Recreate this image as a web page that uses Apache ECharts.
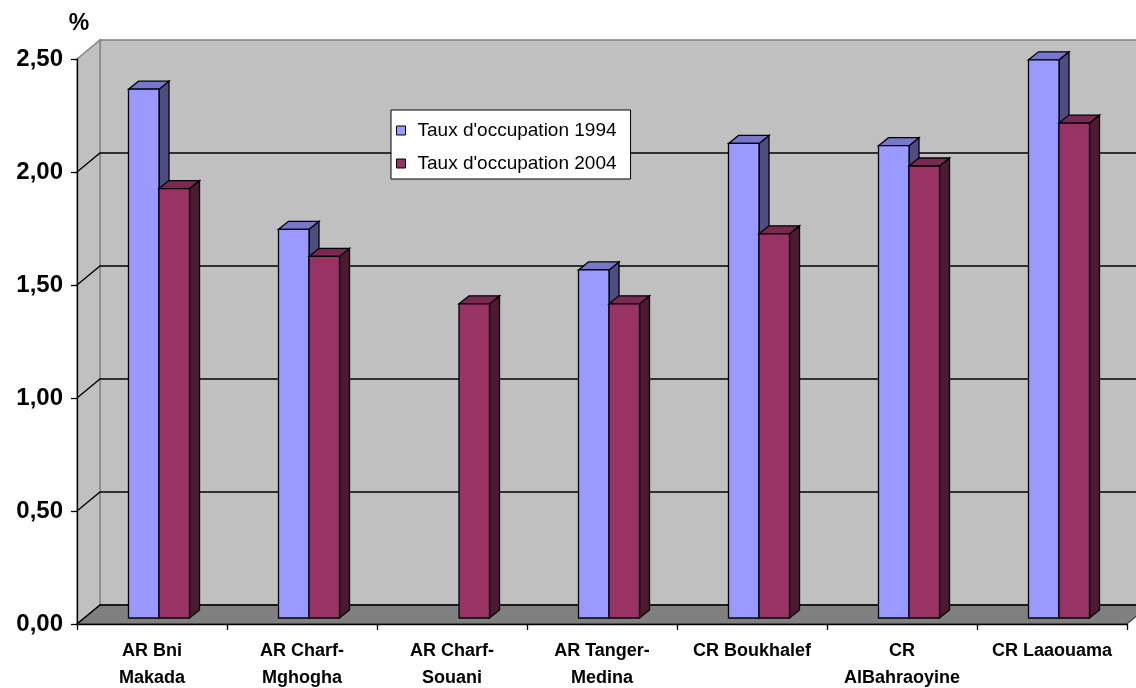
<!DOCTYPE html>
<html>
<head>
<meta charset="utf-8">
<script src="https://cdn.jsdelivr.net/npm/echarts@6/dist/echarts.min.js"></script>
<style>
  html, body { margin: 0; padding: 0; background: #ffffff; }
  #chart { width: 1136px; height: 688px; }
</style>
</head>
<body>
<div id="chart"></div>
<script>
// Occupancy rate by commune / arrondissement
const categories = [
  'AR Bni\nMakada',
  'AR Charf-\nMghogha',
  'AR Charf-\nSouani',
  'AR Tanger-\nMedina',
  'CR Boukhalef',
  'CR\nAlBahraoyine',
  'CR Laaouama'
];
const seriesNames = ["Taux d'occupation 1994", "Taux d'occupation 2004"];
const taux1994 = [2.34, 1.72, null, 1.54, 2.10, 2.09, 2.47];
const taux2004 = [1.90, 1.60, 1.39, 1.39, 1.70, 2.00, 2.19];
const yTicks = [0, 0.5, 1, 1.5, 2, 2.5];

// pseudo-3D geometry (pixels)
const WALL_DX = 23, WALL_DY = -19;   // depth of the chart box
const PAIR_DX = 7, PAIR_DY = -6;     // bars sit part-way into the box
const BAR_DX = 10, BAR_DY = -8;      // depth of each bar
const BAR_FRAC = 30.5 / 150;         // bar width as a share of the category band
const EDGE = { stroke: '#000000', lineWidth: 1.3, lineJoin: 'miter' };

const palettes = [
  { front: '#9999FF', top: '#7777CC', side: '#4D4D80' },
  { front: '#993366', top: '#7A2952', side: '#4D1A33' }
];

function fmt(v) { return v.toFixed(2).replace('.', ','); }

function frameRenderer(params, api) {
  const cs = params.coordSys;
  const left = cs.x, right = cs.x + cs.width;
  const yBottom = api.coord([0, yTicks[0]])[1];
  const yTop = api.coord([0, yTicks[yTicks.length - 1]])[1];
  const children = [];
  // back wall
  children.push({
    type: 'rect',
    shape: { x: left + WALL_DX, y: yTop + WALL_DY, width: right - left + 40, height: yBottom - yTop },
    style: { fill: '#C0C0C0', stroke: '#808080', lineWidth: 1.3 }
  });
  // left side wall
  children.push({
    type: 'polygon',
    shape: { points: [[left, yTop], [left + WALL_DX, yTop + WALL_DY], [left + WALL_DX, yBottom + WALL_DY], [left, yBottom]] },
    style: { fill: '#C0C0C0', stroke: '#808080', lineWidth: 1.3 }
  });
  // floor
  children.push({
    type: 'polygon',
    shape: { points: [[left, yBottom], [right, yBottom], [right + WALL_DX, yBottom + WALL_DY], [left + WALL_DX, yBottom + WALL_DY]] },
    style: { fill: '#808080', stroke: '#404040', lineWidth: 1.2 }
  });
  // gridlines folded along side wall and back wall
  yTicks.slice(0, -1).forEach(function (t) {
    const y = api.coord([0, t])[1];
    children.push({
      type: 'polyline',
      shape: { points: [[left, y], [left + WALL_DX, y + WALL_DY], [right + WALL_DX + 40, y + WALL_DY]] },
      style: { fill: null, stroke: '#000000', lineWidth: 1.3 }
    });
  });
  return { type: 'group', children: children };
}

function barRenderer(seriesIdx) {
  const pal = palettes[seriesIdx];
  return function (params, api) {
    const v = api.value(1);
    if (v == null || isNaN(v)) return null;
    const i = api.value(0);
    const base = api.coord([i, 0]);
    const top = api.coord([i, v]);
    const w = api.size([1, 0])[0] * BAR_FRAC;
    const x0 = base[0] + PAIR_DX + (seriesIdx === 0 ? -w : 0);
    const x1 = x0 + w;
    const yb = base[1] + PAIR_DY;
    const yt = top[1] + PAIR_DY;
    return {
      type: 'group',
      children: [
        { type: 'polygon',
          shape: { points: [[x1, yt], [x1 + BAR_DX, yt + BAR_DY], [x1 + BAR_DX, yb + BAR_DY], [x1, yb]] },
          style: Object.assign({ fill: pal.side }, EDGE) },
        { type: 'polygon',
          shape: { points: [[x0, yt], [x0 + BAR_DX, yt + BAR_DY], [x1 + BAR_DX, yt + BAR_DY], [x1, yt]] },
          style: Object.assign({ fill: pal.top }, EDGE) },
        { type: 'rect',
          shape: { x: x0, y: yt, width: w, height: yb - yt },
          style: Object.assign({ fill: pal.front }, EDGE) }
      ]
    };
  };
}

const chart = echarts.init(document.getElementById('chart'), null, { renderer: 'canvas' });
chart.setOption({
  animation: false,
  backgroundColor: '#ffffff',
  textStyle: { fontFamily: 'Liberation Sans, Arial, sans-serif' },
  grid: { left: 77, right: 9, top: 59, bottom: 64, containLabel: false, outerBoundsMode: 'none' },
  legend: {
    data: seriesNames,
    orient: 'vertical',
    left: 391,
    top: 110,
    backgroundColor: '#ffffff',
    borderColor: '#000000',
    borderWidth: 1,
    padding: [11, 14, 6, 5],
    itemWidth: 9,
    itemHeight: 9,
    itemGap: 14,
    icon: 'rect',
    selectedMode: false,
    itemStyle: { borderColor: '#000000', borderWidth: 1 },
    textStyle: { fontSize: 19, color: '#000000', fontFamily: 'Liberation Sans, Arial, sans-serif', padding: [0, 0, 0, 7] }
  },
  xAxis: {
    type: 'category',
    data: categories,
    z: 10,
    axisLine: { show: true, lineStyle: { color: '#000000', width: 1.3 } },
    axisTick: { show: true, length: 6, lineStyle: { color: '#000000', width: 1.3 } },
    axisLabel: {
      interval: 0,
      margin: 14,
      color: '#000000',
      fontSize: 18,
      fontWeight: 'bold',
      lineHeight: 27,
      fontFamily: 'Liberation Sans, Arial, sans-serif'
    },
    splitLine: { show: false }
  },
  yAxis: {
    type: 'value',
    min: 0,
    max: 2.5,
    interval: 0.5,
    z: 10,
    name: '%',
    nameLocation: 'end',
    nameGap: 24,
    nameTextStyle: { fontSize: 23, fontWeight: 'bold', color: '#000000', fontFamily: 'Liberation Sans, Arial, sans-serif', padding: [0, 0, 0, 4] },
    axisLine: { show: true, lineStyle: { color: '#000000', width: 1.3 } },
    axisTick: { show: true, length: 6, lineStyle: { color: '#000000', width: 1.3 } },
    axisLabel: {
      margin: 14,
      color: '#000000',
      fontSize: 24,
      fontWeight: 'bold',
      fontFamily: 'Liberation Sans, Arial, sans-serif',
      formatter: fmt
    },
    splitLine: { show: false }
  },
  series: [
    {
      name: 'frame',
      type: 'custom',
      silent: true,
      renderItem: frameRenderer,
      data: [[0, 0]],
      encode: { x: 0, y: 1 },
      z: 1
    },
    {
      name: seriesNames[0],
      type: 'custom',
      renderItem: barRenderer(0),
      itemStyle: { color: palettes[0].front },
      data: taux1994.map(function (v, i) { return [i, v]; }),
      encode: { x: 0, y: 1 },
      z: 2
    },
    {
      name: seriesNames[1],
      type: 'custom',
      renderItem: barRenderer(1),
      itemStyle: { color: palettes[1].front },
      data: taux2004.map(function (v, i) { return [i, v]; }),
      encode: { x: 0, y: 1 },
      z: 3
    }
  ]
});
</script>
</body>
</html>
